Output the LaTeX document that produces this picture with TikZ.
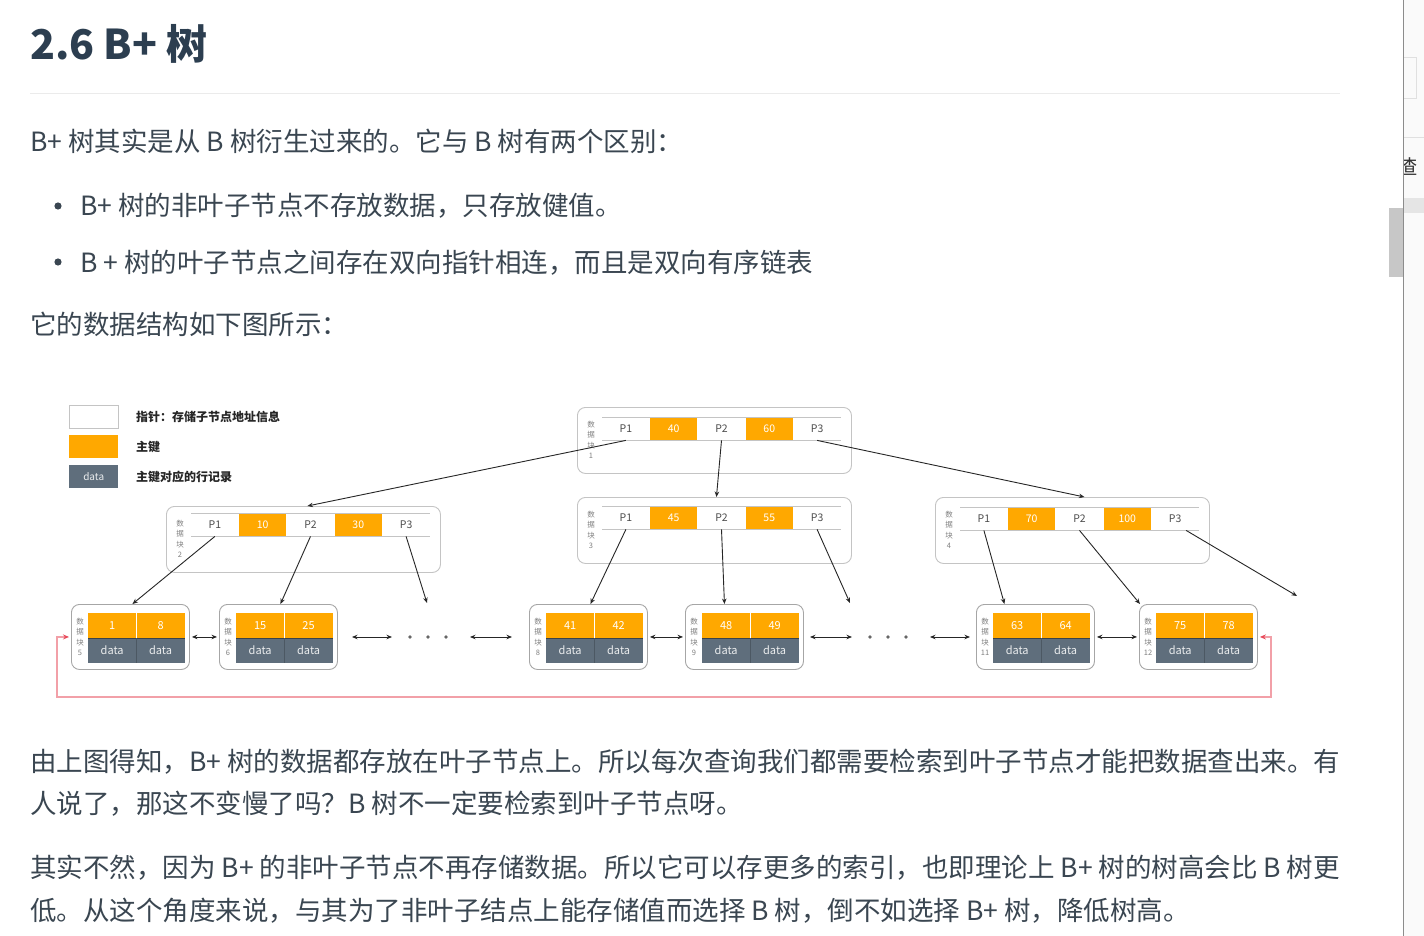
\documentclass[tikz,border=0pt]{standalone}
\usepackage{fontspec}
\setmainfont{Noto Sans CJK SC}
\usetikzlibrary{arrows.meta,calc}
\definecolor{txt}{HTML}{3A4651}
\definecolor{ttl}{HTML}{2C3E50}
\definecolor{org}{HTML}{FFA800}
\definecolor{slate}{HTML}{5F6E7C}
\definecolor{bord}{HTML}{C4C4C4}
\definecolor{pinkline}{HTML}{F2A0A8}
\definecolor{redtip}{HTML}{E84A5A}
\tikzset{
 body/.style={anchor=base west, inner sep=0, text=txt, font=\fontsize{26.5}{30}\selectfont},
 outerbox/.style={draw=bord, rounded corners=8pt, line width=0.9pt, fill=white, anchor=north west, inner sep=0},
 pcell/.style={anchor=north west, inner sep=0, minimum width=47.4pt, minimum height=23pt, fill=white, text=black!70, font=\fontsize{10.5}{12}\selectfont},
 kcell/.style={pcell, fill=org, text=white},
 lkey/.style={anchor=north west, inner sep=0, minimum width=48pt, minimum height=25pt, fill=org, text=white, font=\fontsize{11}{12}\selectfont},
 ldata/.style={anchor=north west, inner sep=0, minimum width=48pt, minimum height=24pt, fill=slate, text=white!88!slate, font=\fontsize{11}{12}\selectfont},
 blab/.style={align=center, inner sep=0, text=black!50, font=\fontsize{7.5}{10.5}\selectfont},
 ptr/.style={draw=black!85, line width=0.9pt, -{Stealth[length=5.5pt,width=4.5pt]}},
 link/.style={draw=black!85, line width=0.9pt, {Stealth[length=5.5pt,width=4.5pt]}-{Stealth[length=5.5pt,width=4.5pt]}, shorten <=2pt, shorten >=2pt},
 redlink/.style={draw=pinkline, line width=1.2pt, {Stealth[length=6pt,width=5pt,color=redtip]}-{Stealth[length=6pt,width=5pt,color=redtip]}},
 legbox/.style={anchor=north west, inner sep=0, minimum width=49pt, minimum height=23pt},
 leglab/.style={anchor=west, inner sep=0, text=black!85, font=\fontsize{12}{13}\selectfont\bfseries},
}
\newcommand{\bpinner}[7]{%
 \node[outerbox, minimum width=274pt, minimum height=66pt] (#1) at (#2,#3) {};
 \node[blab] (#1lab) at ($(#1.north west)+(14,33)$) {数\\据\\块\\#6};
 \node[pcell] (#1p1) at ($(#1.north west)+(25,#7)$) {P1};
 \node[kcell] (#1k1) at (#1p1.north east) {#4};
 \node[pcell] (#1p2) at (#1k1.north east) {P2};
 \node[kcell] (#1k2) at (#1p2.north east) {#5};
 \node[pcell] (#1p3) at (#1k2.north east) {P3};
 \draw[bord, line width=0.8pt] (#1p1.north west) -- (#1p3.north east) (#1p1.south west) -- (#1p3.south east);
}
\newcommand{\bpleaf}[5]{%
 \node[outerbox, draw=black!35, minimum width=118pt, minimum height=65pt] (#1) at (#2,604) {};
 \node[blab] (#1lab) at ($(#1.north west)+(9,33)$) {数\\据\\块\\#5};
 \node[lkey] (#1k1) at ($(#1.north west)+(17,9)$) {#3};
 \node[lkey] (#1k2) at (#1k1.north east) {#4};
 \node[ldata] (#1d1) at (#1k1.south west) {data};
 \node[ldata] (#1d2) at (#1k2.south west) {data};
 \draw[slate!60!black, line width=0.6pt] (#1d1.north west) -- (#1d2.north east);
 \draw[slate!80!black, line width=0.4pt] (#1d1.north east) -- (#1d1.south east);
}
\begin{document}
\begin{tikzpicture}[x=1pt,y=-1pt]
\useasboundingbox (0,0) rectangle (1424,936);
\fill[white] (0,0) rectangle (1424,936);

% heading and text
\node[anchor=base west, inner sep=0, text=ttl, font=\fontsize{41}{48}\selectfont\bfseries] (title) at (30,60) {2.6 B+ 树};
\draw[black!8, line width=1pt] (30,94) -- (1340,94);
\node[body] (t1) at (30,152) {B+ 树其实是从 B 树衍生过来的。它与 B 树有两个区别：};
\fill[txt] (58,206) circle (3.6pt);
\node[body] (t2) at (80,216) {B+ 树的非叶子节点不存放数据，只存放健值。};
\fill[txt] (58,262) circle (3.6pt);
\node[body] (t3) at (80,272) {B + 树的叶子节点之间存在双向指针相连，而且是双向有序链表};
\node[body] (t4) at (30,334) {它的数据结构如下图所示：};
\node[body] (t5) at (30,771) {由上图得知，B+ 树的数据都存放在叶子节点上。所以每次查询我们都需要检索到叶子节点才能把数据查出来。有};
\node[body] (t6) at (30,813) {人说了，那这不变慢了吗？B 树不一定要检索到叶子节点呀。};
\node[body] (t7) at (30,877) {其实不然，因为 B+ 的非叶子节点不再存储数据。所以它可以存更多的索引，也即理论上 B+ 树的树高会比 B 树更};
\node[body] (t8) at (30,920) {低。从这个角度来说，与其为了非叶子结点上能存储值而选择 B 树，倒不如选择 B+ 树，降低树高。};

% legend
\node[legbox, fill=white, draw=bord, line width=0.9pt] (lg1) at (69,405) {};
\node[legbox, fill=org] (lg2) at (69,435) {};
\node[legbox, fill=slate, text=white!88!slate, font=\fontsize{10}{12}\selectfont] (lg3) at (69,465) {data};
\node[leglab] (lgt1) at (136,417) {指针：存储子节点地址信息};
\node[leglab] (lgt2) at (136,447) {主键};
\node[leglab] (lgt3) at (136,477) {主键对应的行记录};

% tree nodes
\bpinner{r}{577}{407}{40}{60}{1}{10}
\bpinner{n2}{166}{506}{10}{30}{2}{7}
\bpinner{n3}{577}{497}{45}{55}{3}{9}
\bpinner{n4}{935}{497}{70}{100}{4}{10}

\bpleaf{l5}{71}{1}{8}{5}
\bpleaf{l6}{219}{15}{25}{6}
\bpleaf{l8}{529}{41}{42}{8}
\bpleaf{l9}{685}{48}{49}{9}
\bpleaf{l11}{976}{63}{64}{11}
\bpleaf{l12}{1139}{75}{78}{12}

% pointers
\coordinate (d1) at (427,603);
\coordinate (d2) at (850,603);
\coordinate (d3) at (1297,596);
\draw[ptr] (rp1.south) -- ($(n2.north)+(4,0)$);
\draw[ptr] (rp2.south) -- ($(n3.north)+(2,0)$);
\draw[ptr] (rp3.south) -- ($(n4.north)+(12,0)$);
\draw[ptr] (n2p1.south) -- ($(l5.north)+(2,0)$);
\draw[ptr] (n2p2.south) -- ($(l6.north)+(2,0)$);
\draw[ptr] (n2p3.south) -- (d1);
\draw[ptr] (n3p1.south) -- ($(l8.north)+(2,0)$);
\draw[ptr] (n3p2.south) -- ($(l9.north)+(-20,0)$);
\draw[ptr] (n3p3.south) -- (d2);
\draw[ptr] (n4p1.south) -- ($(l11.north)+(-31,0)$);
\draw[ptr] (n4p2.south) -- ($(l12.north west)+(1,0)$);
\draw[ptr] ($(n4p3.south)+(11,0)$) -- (d3);

% leaf links
\coordinate (a1) at (352,637); \coordinate (a2) at (392,637);
\coordinate (a3) at (470,637); \coordinate (a4) at (512,637);
\coordinate (a5) at (810,637); \coordinate (a6) at (852,637);
\coordinate (a7) at (930,637); \coordinate (a8) at (970,637);
\draw[link] (l5.east) -- (l6.west);
\draw[link, shorten <=0pt, shorten >=0pt] (a1) -- (a2);
\draw[link, shorten <=0pt, shorten >=0pt] (a3) -- (a4);
\draw[link] (l8.east) -- (l9.west);
\draw[link, shorten <=0pt, shorten >=0pt] (a5) -- (a6);
\draw[link, shorten <=0pt, shorten >=0pt] (a7) -- (a8);
\draw[link] (l11.east) -- (l12.west);
\foreach \x in {410,428,446,870,888,906} \fill[black!60] (\x,637) circle (1.8pt);

% circular red link
\coordinate (rl) at (57,697);
\coordinate (rr) at (1271,697);
\draw[redlink] ($(l5.west)+(-2,0)$) -- (l5.west -| rl) -- (rl) -- (rr) -- (rr |- l12.east) -- ($(l12.east)+(2,0)$);

% right browser edge
\fill[black!2] (1403,0) rectangle (1424,936);
\draw[black!12] (1403,57) -- (1416,57) -- (1416,98) -- (1403,98);
\draw[black!12] (1403,137) -- (1424,137);
\fill[black!10] (1403,198) rectangle (1424,213);
\begin{scope}
\clip (1403,140) rectangle (1424,195);
\node[anchor=west, inner sep=0, text=black!80, font=\fontsize{20}{22}\selectfont] (side) at (1397,167) {渣};
\end{scope}
\fill[black!22] (1389,208) rectangle (1403,277);
\draw[black!45, line width=1pt] (1403,0) -- (1403,936);
\end{tikzpicture}
\end{document}
